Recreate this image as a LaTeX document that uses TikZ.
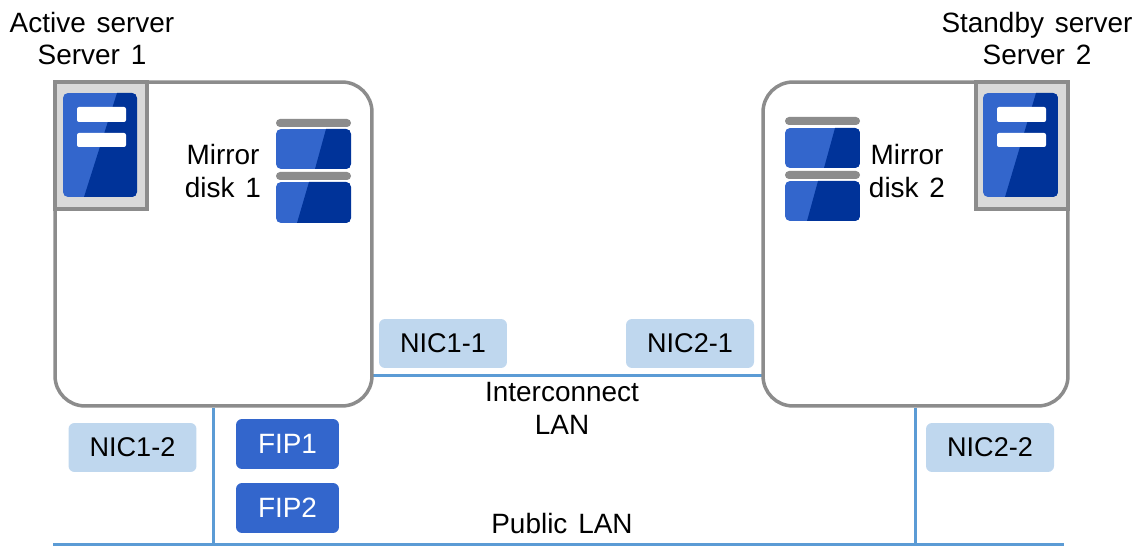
\documentclass[tikz,border=0pt]{standalone}
\usepackage{fontspec}
\setmainfont[WordSpace=1.4]{Liberation Sans}
\definecolor{frame}{HTML}{8C8C8C}
\definecolor{corner}{HTML}{D9D9D9}
\definecolor{lightblue}{HTML}{3366CC}
\definecolor{darkblue}{HTML}{003399}
\definecolor{nicblue}{HTML}{BFD7EE}
\definecolor{lan}{HTML}{5B9BD5}
\tikzset{
  server/.style={draw=frame, line width=0.07cm, rounded corners=0.6cm, fill=white, minimum width=#1, minimum height=6.48cm},
  nic/.style={fill=nicblue, rounded corners=0.12cm, minimum width=2.56cm, minimum height=0.98cm, font=\fontsize{15.4}{18.6}\selectfont},
  fip/.style={fill=lightblue, text=white, rounded corners=0.12cm, minimum width=2.06cm, minimum height=1cm, font=\fontsize{15.9}{18.6}\selectfont},
  label/.style={align=center, font=\fontsize{15.9}{18.6}\selectfont},
  link/.style={draw=lan, line width=0.07cm}
}
% blue plate with dark slanted part: x1 y1 x2 y2 top bottom
\newcommand{\plate}[6]{
  \begin{scope}
    \clip [rounded corners=0.1cm] (#1, #2) rectangle (#3, #4);
    \fill [lightblue] (#1, #2) rectangle (#3, #4);
    \fill [darkblue] (#5, #2) -- (#3, #2) -- (#3, #4) -- (#6, #4) -- cycle;
  \end{scope}
}
% gray bar above a disk
\newcommand{\diskbar}[3]{
  \fill [frame, rounded corners=0.08cm] (#1, #2) rectangle +(75, #3);
}
% server icon: x1 x2 top bottom
\newcommand{\servericon}[4]{
  \plate{#1}{93}{#2}{197}{#3}{#4}
  \fill [white, rounded corners=0.04cm] (#1 + 14, 107) rectangle +(49, 15);
  \fill [white, rounded corners=0.04cm] (#1 + 14, 133) rectangle +(49, 14);
}
\begin{document}
\begin{tikzpicture}[x=0.02cm, y=-0.02cm]
\useasboundingbox (0, 0) rectangle (1141, 546);
\coordinate (publicleft) at (53, 545);
\coordinate (publicright) at (1064, 545);
\coordinate (interleft) at (372, 375.5);
\coordinate (interright) at (763, 375.5);
\draw [link] (publicleft) -- (publicright);
\draw [link] (interleft) -- (interright);
\node [server=6.34cm] (server1) at (213.5, 244) {};
\node [server=6.10cm] (server2) at (915.5, 244) {};
\draw [link] (server1.south) -- (server1.south |- publicleft);
\draw [link] (server2.south) -- (server2.south |- publicright);
% left server
\draw [draw=frame, fill=corner, line width=0.07cm] (55, 82) rectangle (147, 209);
\servericon{63}{137}{117}{84}
\diskbar{276}{119}{8}
\plate{276}{129}{351}{169}{326}{315}
\diskbar{276}{172}{8}
\plate{276}{182}{351}{223}{309}{297}
% right server
\draw [draw=frame, fill=corner, line width=0.07cm] (976, 82) rectangle (1068, 209);
\servericon{983}{1058}{1036}{1005}
\diskbar{785}{117}{8}
\plate{785}{128}{860}{168}{835}{824}
\diskbar{785}{171}{8}
\plate{785}{181}{860}{221}{818}{807}
% labels
\node [label] (active) at (92, 38.5) {Active server\\Server 1};
\node [label] (standby) at (1037, 38.5) {Standby server\\Server 2};
\node [label] (mirror1) at (223, 171) {Mirror\\disk 1};
\node [label] (mirror2) at (907, 171) {Mirror\\disk 2};
\node [label] (interconnect) at (562, 408.5) {Interconnect\\LAN};
\node [label] (public) at (562, 524) {Public LAN};
\node [nic] (nic11) at (443, 343.5) {NIC1-1};
\node [nic] (nic21) at (690, 343.5) {NIC2-1};
\node [nic] (nic12) at (132.5, 447.5) {NIC1-2};
\node [nic] (nic22) at (990, 447.5) {NIC2-2};
\node [fip] (fip1) at (287.5, 444) {FIP1};
\node [fip] (fip2) at (287.5, 508) {FIP2};
\end{tikzpicture}
\end{document}
